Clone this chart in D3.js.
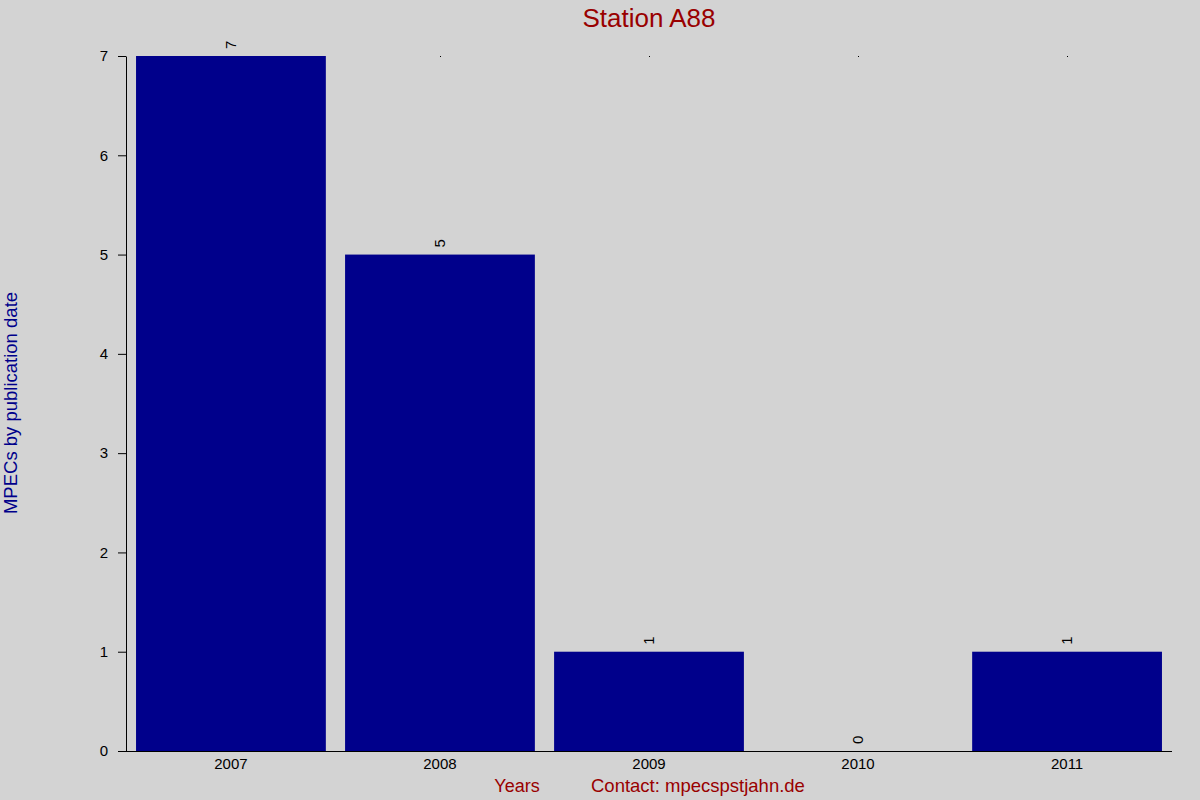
<!DOCTYPE html>
<html>
<head>
<meta charset="utf-8">
<script src="https://cdn.jsdelivr.net/npm/d3@7"></script>
<style>
  html, body { margin: 0; padding: 0; background: #d3d3d3; }
  svg { display: block; font-family: "Liberation Sans", Arial, sans-serif; }
</style>
</head>
<body>
<svg id="chart" width="1200" height="800"></svg>
<script>
// Station A88 - MPECs per year
const years = ['2007', '2008', '2009', '2010', '2011']
const counts = [7, 5, 1, 0, 1]
const yTicks = [0, 1, 2, 3, 4, 5, 6, 7]

const darkRed = '#990000'
const navy = '#00008b'

const svg = d3.select('#chart')

svg.append('rect').attr('width', 1200).attr('height', 800).attr('fill', '#d3d3d3')

const x = d3.scaleBand()
  .domain(years)
  .range([126, 1172])
  .paddingInner(0.092)
  .paddingOuter(0.048)

const y = d3.scaleLinear()
  .domain([0, 7])
  .range([751, 56])

// bars
svg.append('g')
  .selectAll('rect')
  .data(years)
  .join('rect')
  .attr('x', d => x(d))
  .attr('width', x.bandwidth())
  .attr('y', (d, i) => y(counts[i]))
  .attr('height', (d, i) => y(0) - y(counts[i]))
  .attr('fill', navy)

// little dots at the top of each band
svg.append('g')
  .selectAll('rect')
  .data(years.slice(1))
  .join('rect')
  .attr('x', d => Math.round(x(d) + x.bandwidth() / 2))
  .attr('y', y(7))
  .attr('width', 1)
  .attr('height', 1)
  .attr('fill', '#000')

// value labels, rotated
svg.append('g')
  .selectAll('text')
  .data(years)
  .join('text')
  .attr('transform', (d, i) => 'translate(' + (x(d) + x.bandwidth() / 2 + 5) + ',' + (y(counts[i]) - 7) + ') rotate(-90)')
  .attr('font-size', 15)
  .attr('fill', '#000')
  .text((d, i) => counts[i])

// y axis
const yAxis = svg.append('g')
  .attr('transform', 'translate(126,0)')
  .call(d3.axisLeft(y).tickValues(yTicks).tickFormat(d3.format('d')).tickSize(8).tickPadding(10).tickSizeOuter(0))
yAxis.attr('font-size', 15).attr('font-family', 'Liberation Sans, Arial, sans-serif')
yAxis.select('.domain').attr('stroke', '#000')
yAxis.selectAll('text').attr('fill', '#000')

// x axis
const xAxis = svg.append('g')
  .attr('transform', 'translate(0,751)')
  .call(d3.axisBottom(x).tickSize(0).tickPadding(7))
xAxis.attr('font-size', 15).attr('font-family', 'Liberation Sans, Arial, sans-serif')
xAxis.select('.domain').attr('d', 'M118,0.5H1172').attr('stroke', '#000')
xAxis.selectAll('text').attr('fill', '#000')

// title
svg.append('text')
  .attr('x', 649)
  .attr('y', 27)
  .attr('text-anchor', 'middle')
  .attr('font-size', 26)
  .attr('fill', darkRed)
  .text('Station A88')

// y label
svg.append('text')
  .attr('transform', 'translate(17,403) rotate(-90)')
  .attr('text-anchor', 'middle')
  .attr('font-size', 18.5)
  .attr('fill', navy)
  .text('MPECs by publication date')

// x label + contact
svg.append('text')
  .attr('x', 517)
  .attr('y', 792)
  .attr('text-anchor', 'middle')
  .attr('font-size', 18)
  .attr('fill', darkRed)
  .text('Years')

svg.append('text')
  .attr('x', 591)
  .attr('y', 792)
  .attr('font-size', 18.5)
  .attr('fill', darkRed)
  .text('Contact: mpecspstjahn.de')
</script>
</body>
</html>
